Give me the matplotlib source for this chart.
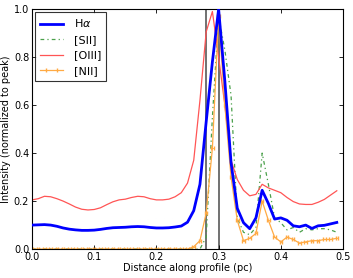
#!/usr/bin/env python3
# -*- coding: utf-8 -*-
"""Normalized emission-line intensity along a slit profile."""

import matplotlib

matplotlib.use("Agg")
import matplotlib.pyplot as plt

DIST = [0.00, 0.01, 0.02, 0.03, 0.04, 0.05, 0.06, 0.07, 0.08, 0.09,
        0.10, 0.11, 0.12, 0.13, 0.14, 0.15, 0.16, 0.17, 0.18, 0.19,
        0.20, 0.21, 0.22, 0.23, 0.24, 0.25, 0.26, 0.27, 0.28, 0.29,
        0.30, 0.31, 0.32, 0.33, 0.34, 0.35, 0.36, 0.37, 0.38, 0.39,
        0.40, 0.41, 0.42, 0.43, 0.44, 0.45, 0.46, 0.47, 0.48, 0.49]

HALPHA = [0.100, 0.101, 0.102, 0.100, 0.095, 0.088, 0.083, 0.080, 0.078, 0.078,
          0.079, 0.082, 0.086, 0.089, 0.090, 0.091, 0.093, 0.094, 0.093, 0.090,
          0.088, 0.088, 0.089, 0.092, 0.096, 0.112, 0.160, 0.270, 0.530, 0.780,
          1.000, 0.700, 0.360, 0.170, 0.110, 0.085, 0.130, 0.245, 0.190, 0.125,
          0.130, 0.120, 0.097, 0.093, 0.100, 0.086, 0.097, 0.099, 0.105, 0.111]

SII = [0.0, 0.0, 0.0, 0.0, 0.0, 0.0, 0.0, 0.0, 0.0, 0.0,
       0.0, 0.0, 0.0, 0.0, 0.0, 0.0, 0.0, 0.0, 0.0, 0.0,
       0.0, 0.0, 0.0, 0.0, 0.0, 0.0, 0.0, 0.0, 0.050, 0.550,
       0.970, 0.830, 0.640, 0.130, 0.070, 0.060, 0.090, 0.400, 0.270, 0.130,
       0.110, 0.080, 0.090, 0.070, 0.085, 0.080, 0.085, 0.085, 0.080, 0.070]

OIII = [0.205, 0.210, 0.220, 0.218, 0.210, 0.200, 0.188, 0.175, 0.166, 0.163,
        0.165, 0.172, 0.185, 0.197, 0.205, 0.208, 0.215, 0.220, 0.218, 0.210,
        0.205, 0.205, 0.208, 0.218, 0.235, 0.275, 0.370, 0.620, 0.905, 0.990,
        0.800, 0.600, 0.370, 0.290, 0.245, 0.222, 0.228, 0.270, 0.255, 0.245,
        0.235, 0.215, 0.198, 0.188, 0.186, 0.186, 0.195, 0.207, 0.225, 0.243]

NII = [0.0, 0.0, 0.0, 0.0, 0.0, 0.0, 0.0, 0.0, 0.0, 0.0,
       0.0, 0.0, 0.0, 0.0, 0.0, 0.0, 0.0, 0.0, 0.0, 0.0,
       0.0, 0.0, 0.0, 0.0, 0.0, 0.0, 0.010, 0.035, 0.150, 0.420,
       0.970, 0.600, 0.300, 0.120, 0.035, 0.045, 0.065, 0.200, 0.120, 0.050,
       0.030, 0.050, 0.040, 0.025, 0.030, 0.035, 0.035, 0.040, 0.040, 0.045]
NII_XERR = 0.002

EDGES = [0.279, 0.300]


def main() -> None:
    plt.rcParams["font.family"] = "DejaVu Sans"
    fig = plt.figure(figsize=(3.53, 2.78), dpi=100)
    ax = fig.add_axes([0.0907, 0.104, 0.881, 0.8633])

    for xv in EDGES:
        ax.axvline(xv, color="0.4", linewidth=1.3, zorder=1)

    ax.plot(DIST, HALPHA, color="#0000ff", linewidth=2, label=r"H$\alpha$", zorder=3)
    ax.plot(DIST, SII, color="#4aa04a", linewidth=0.9, dashes=(3, 2.5, 1, 2.5),
            label="[SII]", zorder=2)
    ax.plot(DIST, OIII, color="#ff5555", linewidth=0.9, label="[OIII]", zorder=2)
    ax.errorbar(DIST, NII, xerr=NII_XERR, color="#ffaa44", linewidth=0.9,
                capsize=1.5, elinewidth=0.6, label="[NII]", zorder=2)

    ax.set_xlim(0, 0.5)
    ax.set_ylim(0, 1.0)
    ax.set_xticks([0.0, 0.1, 0.2, 0.3, 0.4, 0.5])
    ax.set_yticks([0.0, 0.2, 0.4, 0.6, 0.8, 1.0])
    ax.tick_params(direction="in", top=True, right=True, labelsize=7,
                   length=3, width=0.6, pad=2)
    for spine in ax.spines.values():
        spine.set_linewidth(0.8)
    ax.set_xlabel("Distance along profile (pc)", fontsize=7, labelpad=1)
    ax.set_ylabel("Intensity (normalized to peak)", fontsize=7, labelpad=2)

    leg = ax.legend(loc="upper left", fontsize=8, fancybox=False,
                    borderpad=0.45, labelspacing=0.5, handlelength=2.0,
                    handletextpad=1.0, borderaxespad=0.3)
    leg.get_frame().set_edgecolor("black")
    leg.get_frame().set_linewidth(0.8)

    fig.savefig("out.png", dpi=100)
    plt.close(fig)


if __name__ == "__main__":
    main()
